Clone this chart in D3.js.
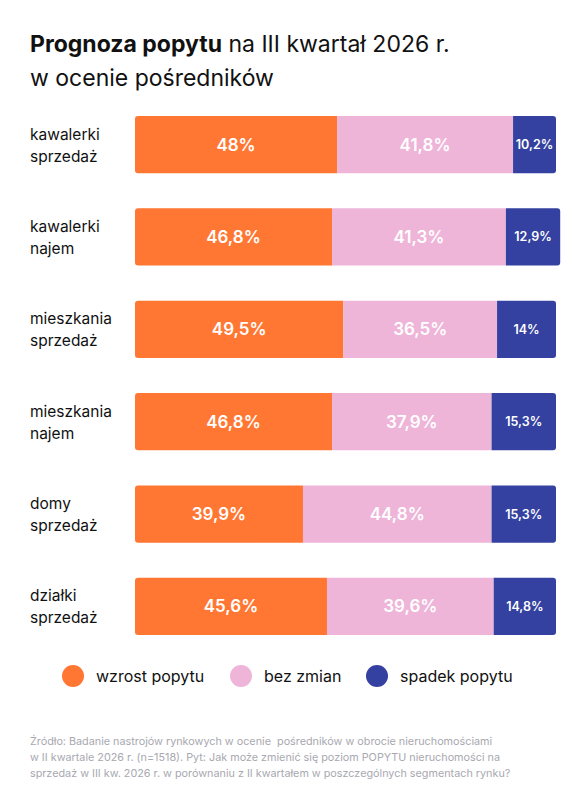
<!DOCTYPE html><html><head><meta charset="utf-8"><script src="https://cdn.jsdelivr.net/npm/d3@7"></script>
<style>body{margin:0;background:#fff}</style></head><body><svg id="c" width="585" height="800"></svg>
<script>
const categories=[["kawalerki","sprzedaż"],["kawalerki","najem"],["mieszkania","sprzedaż"],["mieszkania","najem"],["domy","sprzedaż"],["działki","sprzedaż"]];
const wzrost=[48,46.8,49.5,46.8,39.9,45.6];
const bez=[41.8,41.3,36.5,37.9,44.8,39.6];
const spadek=[10.2,12.9,14,15.3,15.3,14.8];
const seriesNames=["wzrost popytu","bez zmian","spadek popytu"];
const colors=["#FF7733","#EEB5D9","#3441A0"];
const svg=d3.select("#c"),F="Inter, 'Open Sans', sans-serif";
const t=svg.append("text").attr("x",30).attr("y",52).attr("font-family",F).attr("font-size",23).attr("fill","#111");
t.append("tspan").attr("font-weight",700).text("Prognoza popytu");
t.append("tspan").text(" na III kwartał 2026 r.");
svg.append("text").attr("x",30).attr("y",86).attr("font-family",F).attr("font-size",23).attr("fill","#111").text("w ocenie pośredników");
const x=d3.scaleLinear().domain([0,100]).range([135,556]);
const y=d3.scaleBand().domain(d3.range(6)).range([116,635]).paddingInner(0.38).paddingOuter(0);
const data=[wzrost,bez,spadek];
categories.forEach((c,i)=>{
  const g=svg.append("g");
  const cy=y(i)+y.bandwidth()/2;
  g.append("text").attr("x",30).attr("y",cy-5).attr("font-family",F).attr("font-size",15.5).attr("fill","#111").text(c[0]);
  g.append("text").attr("x",30).attr("y",cy+17).attr("font-family",F).attr("font-size",15.5).attr("fill","#111").text(c[1]);
  g.append("rect").attr("x",x(0)).attr("y",y(i)).attr("width",x(100)-x(0)).attr("height",y.bandwidth()).attr("rx",3).attr("fill","#fff");
  let acc=0;
  data.forEach((s,k)=>{
    const v=s[i],x0=x(acc),x1=x(acc+v);acc+=v;
    g.append("path").attr("fill",colors[k]).attr("d",()=>{
      const r=3,yt=y(i),yb=y(i)+y.bandwidth();
      if(k===0)return `M${x0+r},${yt}H${x1}V${yb}H${x0+r}Q${x0},${yb} ${x0},${yb-r}V${yt+r}Q${x0},${yt} ${x0+r},${yt}Z`;
      if(k===2)return `M${x0},${yt}H${x1-r}Q${x1},${yt} ${x1},${yt+r}V${yb-r}Q${x1},${yb} ${x1-r},${yb}H${x0}Z`;
      return `M${x0},${yt}H${x1}V${yb}H${x0}Z`;});
    const small=v<20;
    g.append("text").attr("x",(x0+x1)/2).attr("y",cy).attr("dy","0.36em").attr("text-anchor","middle")
     .attr("font-family",F).attr("font-weight",600).attr("font-size",small?12.5:17).attr("fill","#fff")
     .text(String(v).replace(".",",")+"%");
  });
});
const lx=[73,241,377];
seriesNames.forEach((n,k)=>{
  svg.append("circle").attr("cx",lx[k]).attr("cy",676).attr("r",11).attr("fill",colors[k]);
  svg.append("text").attr("x",lx[k]+23).attr("y",676).attr("dy","0.36em").attr("font-family",F).attr("font-size",16).attr("fill","#111").text(n);
});
const foot=["Źródło: Badanie nastrojów rynkowych w ocenie  pośredników w obrocie nieruchomościami","w II kwartale 2026 r. (n=1518). Pyt: Jak może zmienić się poziom POPYTU nieruchomości na","sprzedaż w III kw. 2026 r. w porównaniu z II kwartałem w poszczególnych segmentach rynku?"];
foot.forEach((l,i)=>svg.append("text").attr("x",30).attr("y",745+i*16).attr("font-family",F).attr("font-size",10.8).attr("fill","#a8a8b0").attr("xml:space","preserve").text(l));
</script></body></html>
